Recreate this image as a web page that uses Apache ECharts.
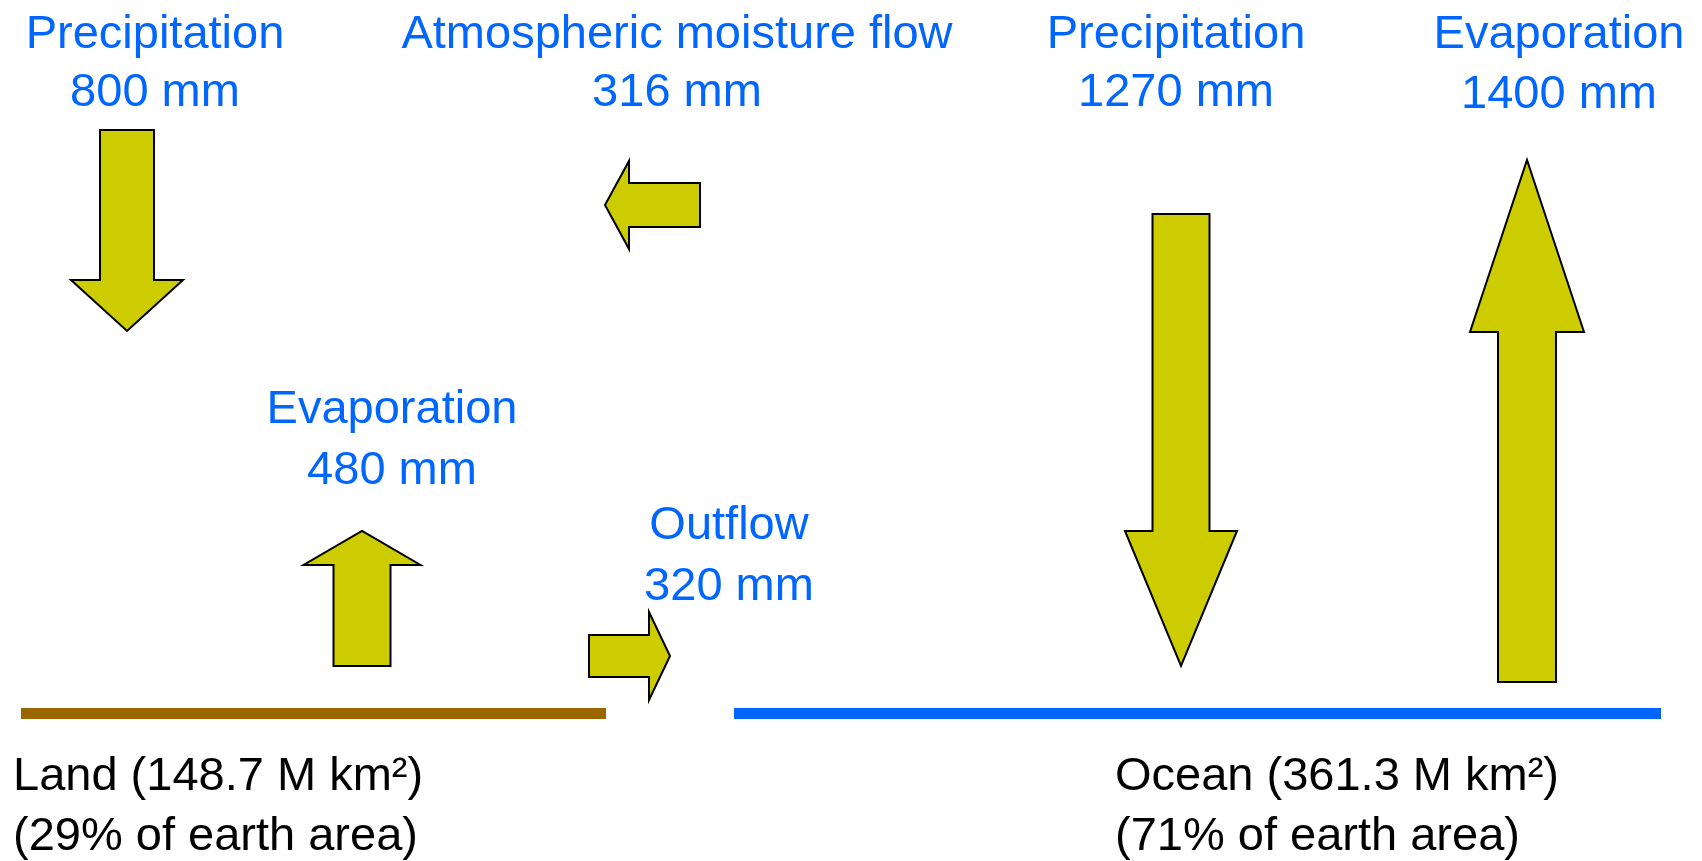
<!DOCTYPE html>
<html>
<head>
<meta charset="utf-8">
<script src="https://cdn.jsdelivr.net/npm/echarts@6/dist/echarts.min.js"></script>
<style>
html,body{margin:0;padding:0;background:#ffffff;}
#chart{width:1702px;height:861px;}
</style>
</head>
<body>
<div id="chart"></div>
<script>
// ---- data ----
const flowNames = ['Precipitation', 'Atmospheric moisture flow', 'Evaporation', 'Outflow', 'Precipitation', 'Evaporation'];
const flowValues = [800, 316, 480, 320, 1270, 1400];
const flowUnit = 'mm';
const surfaceNames = ['Land', 'Ocean'];
const surfaceAreas = [148.7, 361.3];
const surfaceShares = [29, 71];

// ---- layout (axis units) ----
const arrowLayout = [
  {dir: 'down',  c: 127,  tail: 130, tip: 331, shaft: 54, head: 112, headLen: 51},
  {dir: 'left',  c: 205,  tail: 700, tip: 605, shaft: 44, head: 88,  headLen: 24},
  {dir: 'up',    c: 362,  tail: 666, tip: 531, shaft: 57, head: 117, headLen: 34},
  {dir: 'right', c: 656,  tail: 589, tip: 670, shaft: 42, head: 88,  headLen: 21},
  {dir: 'down',  c: 1181, tail: 214, tip: 666, shaft: 57, head: 112, headLen: 135},
  {dir: 'up',    c: 1527, tail: 682, tip: 160, shaft: 58, head: 114, headLen: 172}
];
const labelLayout = [
  {x: 155,  y1: 35,  y2: 93},
  {x: 677,  y1: 35,  y2: 93},
  {x: 392,  y1: 410, y2: 471},
  {x: 729,  y1: 526, y2: 587},
  {x: 1176, y1: 35,  y2: 93},
  {x: 1559, y1: 35,  y2: 95}
];
const surfaceLayout = [
  {x0: 21,  x1: 606,  y: 713.5, textX: 13,   y1: 777, y2: 837, color: '#996600'},
  {x0: 734, x1: 1661, y: 713.5, textX: 1115, y1: 777, y2: 837, color: '#0066FF'}
];

const FONT = '47px "Liberation Sans", Arial, sans-serif';
const BLUE = '#0066FF';

function arrowPoints(L, api) {
  const pts = [];
  const sign = (L.tip > L.tail) ? 1 : -1;
  const hb = L.tip - sign * L.headLen;
  const raw = [
    [L.tail, -L.shaft / 2], [hb, -L.shaft / 2], [hb, -L.head / 2],
    [L.tip, 0], [hb, L.head / 2], [hb, L.shaft / 2], [L.tail, L.shaft / 2]
  ];
  const vertical = (L.dir === 'up' || L.dir === 'down');
  raw.forEach(function (p) {
    const xy = vertical ? [L.c + p[1], p[0]] : [p[0], L.c + p[1]];
    pts.push(api.coord(xy));
  });
  return pts;
}

const chart = echarts.init(document.getElementById('chart'));
chart.setOption({
  animation: false,
  backgroundColor: '#ffffff',
  grid: {left: 0, right: 0, top: 0, bottom: 0},
  xAxis: {type: 'value', min: 0, max: 1702, show: false},
  yAxis: {type: 'value', min: 0, max: 861, inverse: true, show: false},
  series: [
    {
      type: 'custom',
      coordinateSystem: 'cartesian2d',
      data: flowValues.map(function (v, i) { return [i, v]; }),
      renderItem: function (params, api) {
        const i = api.value(0);
        const v = api.value(1);
        const L = arrowLayout[i];
        const T = labelLayout[i];
        const p1 = api.coord([T.x, T.y1]);
        const p2 = api.coord([T.x, T.y2]);
        return {
          type: 'group',
          children: [
            {
              type: 'polygon',
              shape: {points: arrowPoints(L, api)},
              style: {fill: '#CCCC00', stroke: '#000000', lineWidth: 2, lineJoin: 'miter'}
            },
            {
              type: 'text',
              style: {text: flowNames[i], x: p1[0], y: p1[1], fill: BLUE, font: FONT, align: 'center', verticalAlign: 'middle'}
            },
            {
              type: 'text',
              style: {text: v + ' ' + flowUnit, x: p2[0], y: p2[1], fill: BLUE, font: FONT, align: 'center', verticalAlign: 'middle'}
            }
          ]
        };
      }
    },
    {
      type: 'custom',
      coordinateSystem: 'cartesian2d',
      data: surfaceAreas.map(function (a, i) { return [i, a, surfaceShares[i]]; }),
      renderItem: function (params, api) {
        const i = api.value(0);
        const S = surfaceLayout[i];
        const a = api.coord([S.x0, S.y]);
        const b = api.coord([S.x1, S.y]);
        const t1 = api.coord([S.textX, S.y1]);
        const t2 = api.coord([S.textX, S.y2]);
        return {
          type: 'group',
          children: [
            {
              type: 'line',
              shape: {x1: a[0], y1: a[1], x2: b[0], y2: b[1]},
              style: {stroke: S.color, lineWidth: 11, lineCap: 'butt'}
            },
            {
              type: 'text',
              style: {text: surfaceNames[i] + ' (' + api.value(1) + ' M km\u00B2)', x: t1[0], y: t1[1], fill: '#000000', font: FONT, align: 'left', verticalAlign: 'middle'}
            },
            {
              type: 'text',
              style: {text: '(' + api.value(2) + '% of earth area)', x: t2[0], y: t2[1], fill: '#000000', font: FONT, align: 'left', verticalAlign: 'middle'}
            }
          ]
        };
      }
    }
  ]
});
</script>
</body>
</html>
